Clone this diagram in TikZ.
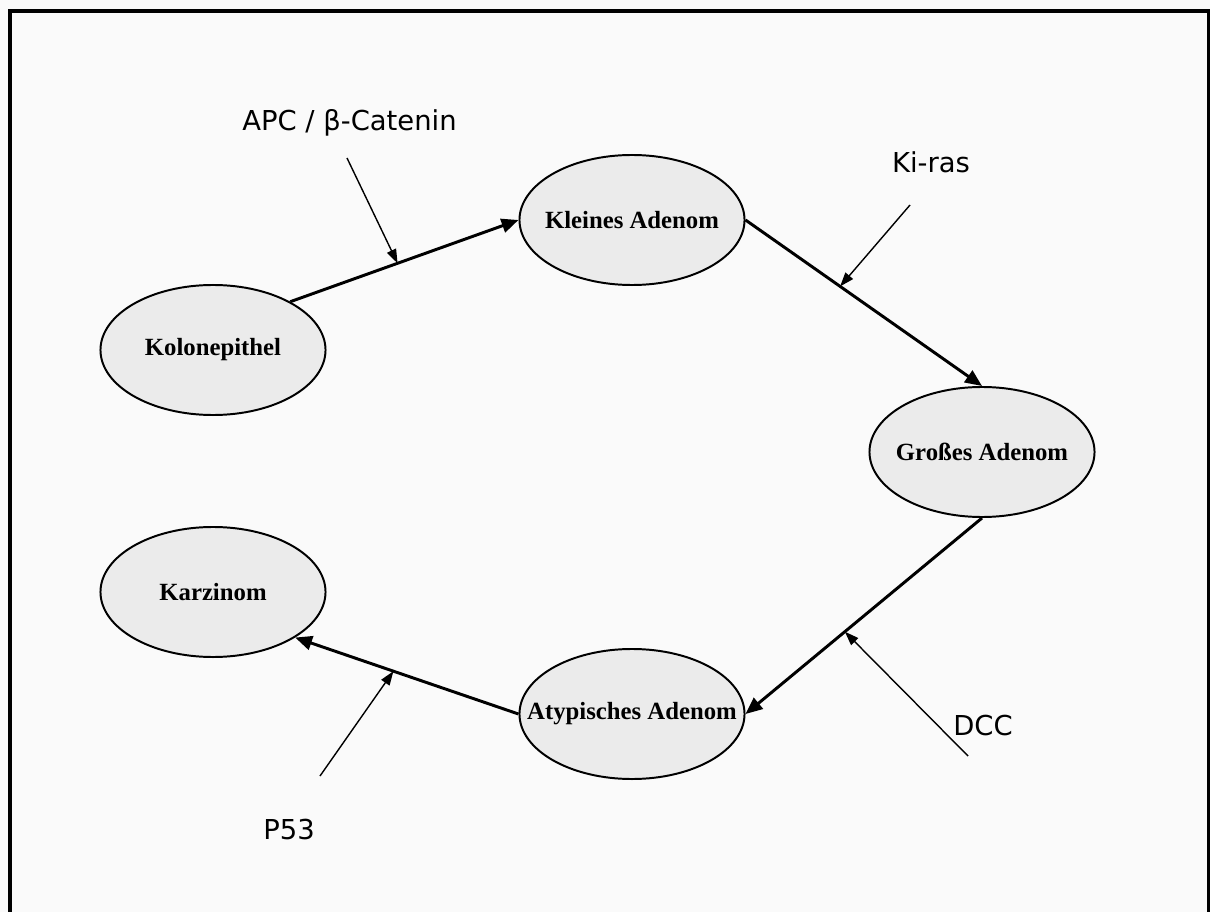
\documentclass[tikz,border=0pt]{standalone}
\usepackage{fontspec}
\setmainfont{Liberation Serif}
\newfontfamily\genefont{DejaVu Sans}
\usepackage{xcolor}
\usepackage{tikz}
\usetikzlibrary{shapes.geometric}
\usetikzlibrary{arrows.meta}

\definecolor{paper}{HTML}{FAFAFA}
\definecolor{stagefill}{HTML}{EBEBEB}

\begin{document}
\begin{tikzpicture}[x=0.025cm,y=-0.025cm]
      \tikzstyle{stage}=[ellipse,draw,line width=1.4pt,fill=stagefill,
        minimum width=5.625cm,minimum height=3.25cm,inner sep=0pt,
        font=\bfseries\fontsize{17.6}{20}\selectfont]
      \tikzstyle{gene}=[font=\genefont\fontsize{19.5}{22}\selectfont,inner sep=0pt]
      \tikzstyle{mainarrow}=[line width=2.1pt,-{Triangle[length=12pt,width=10pt]}]
      \tikzstyle{hitarrow}=[line width=1pt,-{Triangle[length=10pt,width=7pt]}]
      \useasboundingbox (0,0) rectangle (1210,912);
      \fill[paper] (0,0) rectangle (1210,912);
      \draw[line width=2.2pt] (10,912) -- (10,11) -- (1209,11) -- (1209,912);

      \node[stage] (kolon) at (213,350) {\makebox[0pt]{Kolonepithel}};
      \node[stage] (klein) at (632,220) {\makebox[0pt]{Kleines Adenom}};
      \node[stage] (gross) at (982,452) {\makebox[0pt]{Großes Adenom}};
      \node[stage] (atyp)  at (632,714) {\makebox[0pt]{Atypisches Adenom}};
      \node[stage] (karz)  at (213,592) {\makebox[0pt]{Karzinom}};

      \node[gene,anchor=west] (apc)   at (242,123) {APC / β-Catenin};
      \node[gene]             (kiras) at (931,162) {Ki-ras};
      \node[gene]             (dcc)   at (983,726) {DCC};
      \node[gene,anchor=west] (p53)   at (263,830) {P53};

      \coordinate (apcS)   at (347,158);
      \coordinate (kirasS) at (910,205);
      \coordinate (dccS)   at (968,756);
      \coordinate (p53S)   at (320,776);

      \draw[mainarrow] (kolon.32) -- coordinate[pos=0.47] (apcT) (klein.west);
      \draw[mainarrow] (klein.east) -- coordinate[pos=0.40] (kirasT) (gross.north);
      \draw[mainarrow] (gross.south) -- coordinate[pos=0.58] (dccT) (atyp.east);
      \draw[mainarrow] (atyp.west) -- coordinate[pos=0.56] (p53T) (karz.331);

      \draw[hitarrow] (apcS)   -- (apcT);
      \draw[hitarrow] (kirasS) -- (kirasT);
      \draw[hitarrow] (dccS)   -- (dccT);
      \draw[hitarrow] (p53S)   -- (p53T);
    \end{tikzpicture}
\end{document}
